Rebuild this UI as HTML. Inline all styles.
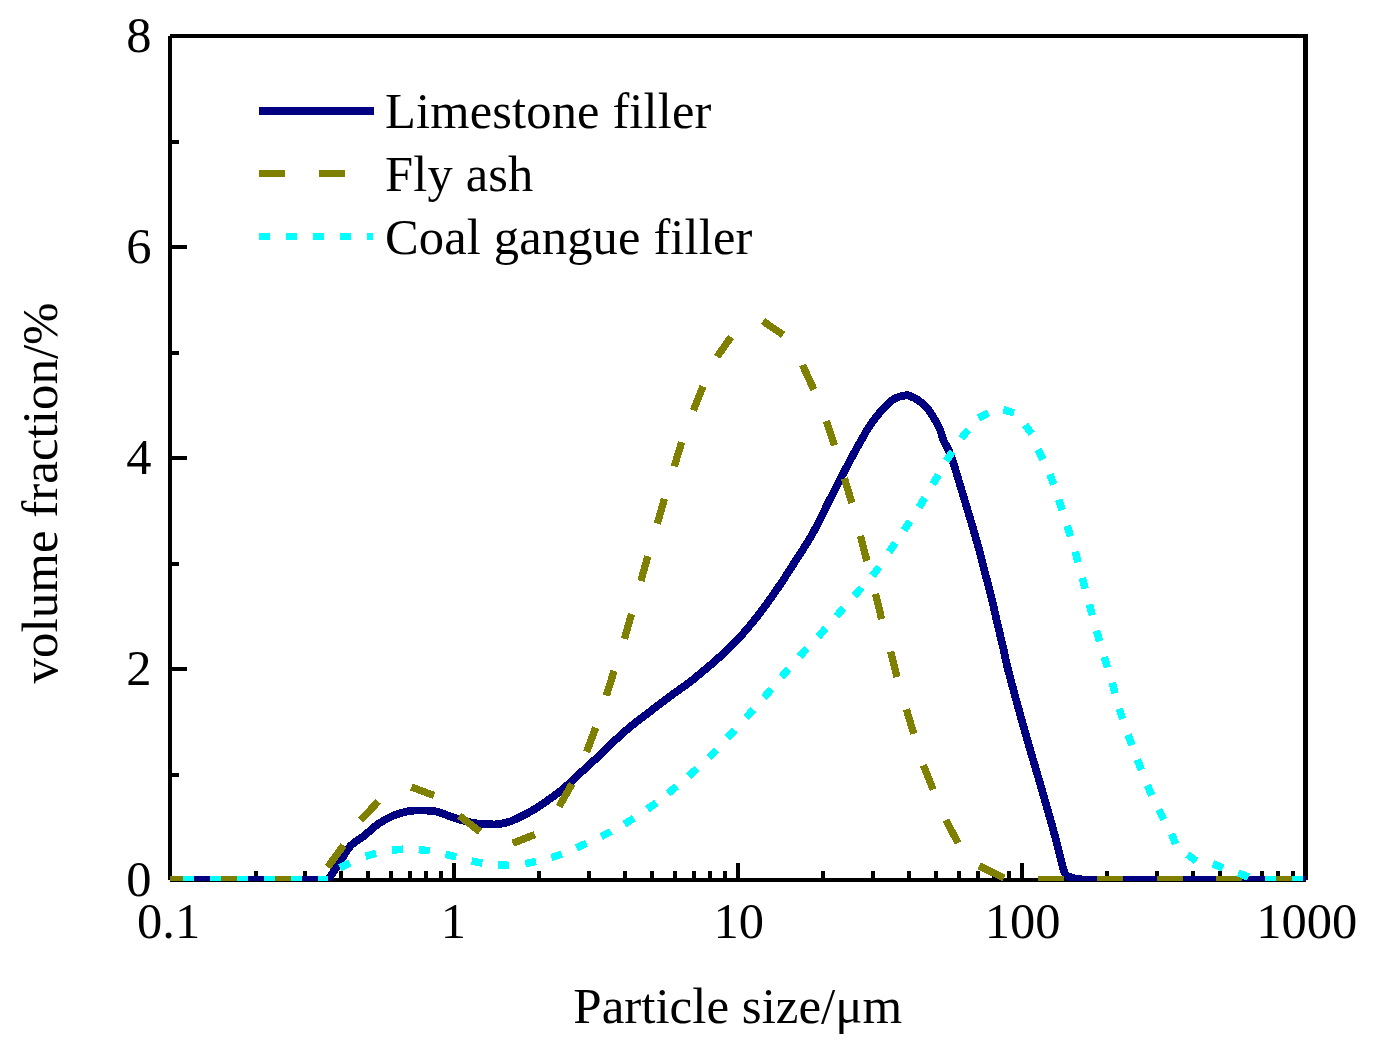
<!DOCTYPE html>
<html><head><meta charset="utf-8"><title>Particle size distribution</title>
<style>html,body{margin:0;padding:0;background:#fff}body{width:1376px;height:1056px;overflow:hidden}svg{display:block}text{font-family:"Liberation Serif",serif;font-size:50.5px;fill:#000}</style>
</head><body>
<svg width="1376" height="1056" viewBox="0 0 1376 1056">
<rect x="0" y="0" width="1376" height="1056" fill="#fff"/>
<g fill="#000" shape-rendering="crispEdges">
<rect x="168" y="36" width="4" height="844"/>
<rect x="170" y="34" width="1138" height="4"/>
<rect x="1303" y="36" width="5" height="844"/>
<rect x="170" y="878" width="1136" height="4"/>
<rect x="172" y="139.5" width="7" height="4"/>
<rect x="172" y="245.0" width="15" height="4"/>
<rect x="172" y="350.5" width="7" height="4"/>
<rect x="172" y="456.0" width="15" height="4"/>
<rect x="172" y="561.5" width="7" height="4"/>
<rect x="172" y="667.0" width="15" height="4"/>
<rect x="172" y="772.5" width="7" height="4"/>
<rect x="253.5" y="871" width="4" height="7"/>
<rect x="303.4" y="871" width="4" height="7"/>
<rect x="338.9" y="871" width="4" height="7"/>
<rect x="366.4" y="871" width="4" height="7"/>
<rect x="388.9" y="871" width="4" height="7"/>
<rect x="407.9" y="871" width="4" height="7"/>
<rect x="424.4" y="871" width="4" height="7"/>
<rect x="438.9" y="871" width="4" height="7"/>
<rect x="451.9" y="863" width="4" height="15"/>
<rect x="537.3" y="871" width="4" height="7"/>
<rect x="587.3" y="871" width="4" height="7"/>
<rect x="622.8" y="871" width="4" height="7"/>
<rect x="650.3" y="871" width="4" height="7"/>
<rect x="672.8" y="871" width="4" height="7"/>
<rect x="691.8" y="871" width="4" height="7"/>
<rect x="708.2" y="871" width="4" height="7"/>
<rect x="722.8" y="871" width="4" height="7"/>
<rect x="735.8" y="863" width="4" height="15"/>
<rect x="821.2" y="871" width="4" height="7"/>
<rect x="871.2" y="871" width="4" height="7"/>
<rect x="906.7" y="871" width="4" height="7"/>
<rect x="934.2" y="871" width="4" height="7"/>
<rect x="956.6" y="871" width="4" height="7"/>
<rect x="975.7" y="871" width="4" height="7"/>
<rect x="992.1" y="871" width="4" height="7"/>
<rect x="1006.6" y="871" width="4" height="7"/>
<rect x="1019.6" y="863" width="4" height="15"/>
<rect x="1105.1" y="871" width="4" height="7"/>
<rect x="1155.1" y="871" width="4" height="7"/>
<rect x="1190.5" y="871" width="4" height="7"/>
<rect x="1218.0" y="871" width="4" height="7"/>
<rect x="1240.5" y="871" width="4" height="7"/>
<rect x="1259.5" y="871" width="4" height="7"/>
<rect x="1276.0" y="871" width="4" height="7"/>
<rect x="1290.5" y="871" width="4" height="7"/>
</g>
<defs><clipPath id="c"><rect x="170" y="36" width="1136" height="845"/></clipPath></defs>
<g clip-path="url(#c)" fill="none" shape-rendering="crispEdges">
<path d="M170,879.5 L328.5,879.5 " stroke="#000080" stroke-width="7"/>
<path d="M328.5,879.5 C330.0,877.2 334.8,869.7 337.3,865.8 C339.8,861.9 341.3,859.4 343.3,856.3 C345.3,853.2 347.7,849.4 349.3,847.3 C350.9,845.2 351.6,844.9 353.0,843.7 C354.4,842.5 356.1,841.4 358.0,840.0 C359.9,838.6 361.0,838.2 364.5,835.4 C368.0,832.6 374.2,826.7 379.1,823.4 C384.0,820.1 388.8,817.6 393.6,815.6 C398.4,813.6 403.2,812.1 408.1,811.2 C413.0,810.4 417.9,810.4 422.7,810.5 C427.5,810.6 432.1,810.6 437.2,811.8 C442.3,813.0 448.4,815.9 453.3,817.5 C458.2,819.1 462.1,820.4 466.5,821.5 C470.9,822.6 475.4,823.4 479.8,823.9 C484.2,824.4 489.6,824.4 493.0,824.4 C496.4,824.4 497.2,824.5 500.0,824.0 C502.8,823.5 506.5,822.7 510.0,821.5 C513.5,820.3 517.3,818.4 520.8,816.7 C524.3,815.0 527.5,813.3 531.0,811.3 C534.5,809.3 538.2,807.0 541.7,804.7 C545.2,802.4 548.5,799.8 552.0,797.3 C555.5,794.8 559.0,792.3 562.5,789.4 C566.0,786.5 569.5,783.2 573.0,780.0 C576.5,776.8 579.8,773.5 583.3,770.3 C586.8,767.0 591.2,763.1 594.0,760.5 C596.8,757.9 598.3,756.4 600.0,754.8 C601.7,753.2 602.3,752.8 604.2,751.0 C606.1,749.2 608.2,747.0 611.3,744.0 C614.4,741.0 618.9,736.7 622.7,733.3 C626.5,729.9 630.2,726.8 634.0,723.8 C637.8,720.8 641.7,717.9 645.5,715.0 C649.3,712.1 653.0,709.2 656.8,706.3 C660.6,703.4 664.4,700.5 668.2,697.7 C672.0,694.9 675.7,692.2 679.5,689.5 C683.3,686.8 687.1,684.1 690.9,681.2 C694.7,678.3 698.4,675.1 702.2,672.0 C706.0,668.9 710.3,665.2 713.6,662.3 C716.9,659.4 718.9,657.7 722.0,654.8 C725.1,651.9 728.5,648.8 732.3,645.0 C736.1,641.2 740.5,636.5 744.6,631.8 C748.7,627.1 752.8,622.2 756.9,617.0 C761.0,611.8 765.2,606.0 769.3,600.3 C773.4,594.5 777.5,588.6 781.6,582.5 C785.7,576.4 789.8,569.8 793.9,563.4 C798.0,557.0 802.6,550.1 806.2,544.3 C809.8,538.5 811.8,535.2 815.4,528.5 C819.0,521.8 823.6,512.0 827.7,503.8 C831.8,495.6 836.0,487.4 840.2,479.2 C844.5,471.0 849.6,461.3 853.2,454.6 C856.8,447.9 859.6,443.2 862.0,439.0 C864.4,434.8 865.2,432.8 867.3,429.5 C869.4,426.2 872.1,422.4 874.5,419.2 C876.9,416.0 879.4,412.9 881.8,410.2 C884.2,407.4 886.7,404.8 889.1,402.7 C891.5,400.6 893.9,398.9 896.3,397.8 C898.7,396.7 901.8,396.2 903.6,395.8 C905.4,395.4 906.0,395.0 907.2,395.1 C908.4,395.2 909.1,395.6 910.9,396.4 C912.7,397.2 915.7,398.5 918.1,400.1 C920.5,401.7 923.0,403.6 925.4,406.2 C927.8,408.8 930.3,412.1 932.7,416.0 C935.1,419.9 938.1,425.4 939.9,429.4 C941.7,433.4 941.6,435.8 943.4,440.0 C945.2,444.2 948.1,448.1 950.6,454.6 C953.1,461.1 955.8,471.0 958.3,479.2 C960.8,487.4 963.2,495.6 965.7,503.8 C968.2,512.0 970.8,520.7 973.1,528.5 C975.4,536.3 977.2,542.8 979.3,550.5 C981.4,558.2 983.4,566.5 985.5,574.6 C987.6,582.7 989.8,591.0 991.8,599.2 C993.8,607.4 995.6,615.6 997.5,623.8 C999.4,632.0 1001.4,640.3 1003.3,648.5 C1005.2,656.7 1005.8,661.2 1008.9,673.1 C1012.0,685.0 1017.6,705.3 1021.6,719.8 C1025.6,734.2 1029.6,747.8 1033.1,759.8 C1036.6,771.8 1039.5,781.4 1042.5,791.8 C1045.5,802.2 1048.5,812.7 1051.2,822.3 C1053.9,831.9 1056.5,841.8 1058.4,849.3 C1060.3,856.8 1061.6,862.8 1062.8,867.0 C1064.0,871.2 1064.1,872.5 1065.5,874.3 C1066.9,876.0 1068.6,876.7 1071.0,877.5 C1073.4,878.3 1076.8,879.0 1080.0,879.3 C1083.2,879.6 1088.3,879.5 1090.0,879.5 L1306,879.5" stroke="#000080" stroke-width="7.8" stroke-linejoin="round"/>
<g stroke="#808000" stroke-width="7.3">
<line x1="170" y1="879.5" x2="183" y2="879.5"/>
<line x1="210" y1="879.5" x2="237" y2="879.5"/>
<line x1="264" y1="879.5" x2="291" y2="879.5"/>
<line x1="1038.2" y1="879.5" x2="1064.1" y2="879.5"/>
<line x1="1097" y1="879.5" x2="1123" y2="879.5"/>
<line x1="1156.8" y1="879.5" x2="1182.9" y2="879.5"/>
<line x1="1216.2" y1="879.5" x2="1242" y2="879.5"/>
<line x1="1276" y1="879.5" x2="1302" y2="879.5"/>
<line x1="327.8" y1="867" x2="343.5" y2="845.4"/>
<line x1="360.5" y1="820.3" x2="378.3" y2="801.4"/>
<line x1="411.4" y1="787" x2="433.9" y2="795.5"/>
<line x1="459.3" y1="815.7" x2="480" y2="831.7"/>
<line x1="512.7" y1="843.3" x2="534.9" y2="834.5"/>
<line x1="559" y1="806.6" x2="572" y2="783.9"/>
<line x1="586.6" y1="751.9" x2="595.7" y2="727.6"/>
<line x1="606.4" y1="695.5" x2="614.1" y2="670.9"/>
<line x1="624.4" y1="638.9" x2="631.5" y2="614"/>
<line x1="640.9" y1="581" x2="647.8" y2="556.2"/>
<line x1="657.3" y1="523.6" x2="664.4" y2="498.8"/>
<line x1="674.2" y1="466.4" x2="681.7" y2="442.2"/>
<line x1="693.4" y1="410.4" x2="702.9" y2="386.4"/>
<line x1="717.2" y1="356.7" x2="731" y2="336.9"/>
<line x1="763" y1="321.1" x2="783.1" y2="334.9"/>
<line x1="802.5" y1="365" x2="813.9" y2="389.7"/>
<line x1="826.3" y1="421" x2="834.5" y2="445.4"/>
<line x1="844.4" y1="478.4" x2="851.9" y2="502.9"/>
<line x1="860.4" y1="535.8" x2="866.9" y2="560.9"/>
<line x1="875.6" y1="593.9" x2="881.6" y2="619.1"/>
<line x1="890.6" y1="651.7" x2="897" y2="677"/>
<line x1="906.4" y1="709.3" x2="913.8" y2="733.8"/>
<line x1="923.4" y1="765.2" x2="933.1" y2="789.5"/>
<line x1="945.9" y1="820.1" x2="958.1" y2="843"/>
<line x1="978.9" y1="865.8" x2="1004.2" y2="878.1"/>
</g>
<g stroke="#00ffff" stroke-width="7.5">
<line x1="183" y1="879.5" x2="193.5" y2="879.5"/>
<line x1="210" y1="879.5" x2="221" y2="879.5"/>
<line x1="237" y1="879.5" x2="248" y2="879.5"/>
<line x1="264" y1="879.5" x2="275" y2="879.5"/>
<line x1="291" y1="879.5" x2="302" y2="879.5"/>
<line x1="318" y1="879.5" x2="327.5" y2="879.5"/>
<line x1="1265" y1="879.5" x2="1276" y2="879.5"/>
<line x1="1292" y1="879.5" x2="1303" y2="879.5"/>
<line x1="340.1" y1="867.9" x2="349.9" y2="862.7"/>
<line x1="365.5" y1="856.4" x2="376.1" y2="853.2"/>
<line x1="392.2" y1="850.2" x2="403.2" y2="849.2"/>
<line x1="418.8" y1="849.6" x2="429.8" y2="850.8"/>
<line x1="445.5" y1="854.4" x2="456.3" y2="856.8"/>
<line x1="471.6" y1="861.1" x2="482.4" y2="863.1"/>
<line x1="498.0" y1="865.1" x2="509.0" y2="865.3"/>
<line x1="525.2" y1="863.6" x2="536.0" y2="861.6"/>
<line x1="551.5" y1="857.5" x2="561.9" y2="854.1"/>
<line x1="576.5" y1="847.8" x2="586.5" y2="843.4"/>
<line x1="601.2" y1="836.5" x2="611.0" y2="831.5"/>
<line x1="624.4" y1="824.1" x2="633.8" y2="818.3"/>
<line x1="647.3" y1="809.2" x2="656.3" y2="802.8"/>
<line x1="668.1" y1="793.3" x2="676.7" y2="786.3"/>
<line x1="688.7" y1="776.1" x2="696.9" y2="768.7"/>
<line x1="708.9" y1="757.6" x2="716.7" y2="749.8"/>
<line x1="727.4" y1="737.9" x2="734.8" y2="729.9"/>
<line x1="746.0" y1="717.7" x2="753.4" y2="709.5"/>
<line x1="764.1" y1="697.5" x2="771.3" y2="689.1"/>
<line x1="781.4" y1="677.1" x2="788.6" y2="668.9"/>
<line x1="799.6" y1="656.5" x2="807.0" y2="648.3"/>
<line x1="818.3" y1="636.6" x2="825.7" y2="628.4"/>
<line x1="836.4" y1="616.2" x2="843.6" y2="608.0"/>
<line x1="854.4" y1="595.9" x2="861.6" y2="587.7"/>
<line x1="872.4" y1="575.8" x2="879.2" y2="567.0"/>
<line x1="889.1" y1="551.9" x2="895.3" y2="542.9"/>
<line x1="904.0" y1="530.4" x2="910.0" y2="521.2"/>
<line x1="919.1" y1="507.3" x2="924.9" y2="497.9"/>
<line x1="932.8" y1="484.2" x2="938.4" y2="474.8"/>
<line x1="946.4" y1="460.9" x2="952.4" y2="451.7"/>
<line x1="961.3" y1="438.3" x2="968.3" y2="429.9"/>
<line x1="978.5" y1="417.9" x2="988.3" y2="412.9"/>
<line x1="1003.4" y1="409.7" x2="1014.0" y2="412.9"/>
<line x1="1025.1" y1="425.0" x2="1031.7" y2="433.8"/>
<line x1="1038.2" y1="449.5" x2="1042.8" y2="459.5"/>
<line x1="1049.8" y1="474.3" x2="1053.8" y2="484.5"/>
<line x1="1058.8" y1="499.6" x2="1062.2" y2="510.0"/>
<line x1="1067.2" y1="525.7" x2="1070.4" y2="536.3"/>
<line x1="1075.1" y1="551.7" x2="1078.1" y2="562.3"/>
<line x1="1082.4" y1="578.0" x2="1085.2" y2="588.6"/>
<line x1="1089.5" y1="604.5" x2="1092.3" y2="615.1"/>
<line x1="1096.6" y1="630.7" x2="1099.6" y2="641.3"/>
<line x1="1104.3" y1="656.9" x2="1107.5" y2="667.5"/>
<line x1="1112.1" y1="682.7" x2="1115.1" y2="693.3"/>
<line x1="1119.3" y1="708.7" x2="1122.7" y2="719.1"/>
<line x1="1128.1" y1="734.7" x2="1131.9" y2="745.1"/>
<line x1="1137.4" y1="759.7" x2="1141.4" y2="769.9"/>
<line x1="1147.4" y1="785.3" x2="1151.8" y2="795.3"/>
<line x1="1158.9" y1="809.7" x2="1163.7" y2="819.5"/>
<line x1="1171.5" y1="833.8" x2="1175.7" y2="844.0"/>
<line x1="1187.5" y1="854.5" x2="1196.3" y2="861.1"/>
<line x1="1212.9" y1="863.8" x2="1223.1" y2="868.0"/>
<line x1="1238.3" y1="872.9" x2="1248.5" y2="877.1"/>
</g>
</g>
<g shape-rendering="crispEdges">
<rect x="259" y="107" width="115" height="8" fill="#000080"/>
<rect x="259" y="170" width="26" height="7" fill="#808000"/><rect x="319" y="170" width="26" height="7" fill="#808000"/>
<rect x="259" y="232.5" width="11" height="7.5" fill="#00ffff"/>
<rect x="286" y="232.5" width="11" height="7.5" fill="#00ffff"/>
<rect x="313" y="232.5" width="11" height="7.5" fill="#00ffff"/>
<rect x="340" y="232.5" width="11" height="7.5" fill="#00ffff"/>
<rect x="367" y="232.5" width="6" height="7.5" fill="#00ffff"/>
</g>
<g style="font-size:51px;letter-spacing:0.16px">
<text x="385" y="127.8">Limestone filler</text>
<text x="385" y="190.6">Fly ash</text>
<text x="385" y="253.7">Coal gangue filler</text>
</g>
<text x="151.5" y="51.8" text-anchor="end">8</text>
<text x="151.5" y="262.8" text-anchor="end">6</text>
<text x="151.5" y="473.8" text-anchor="end">4</text>
<text x="151.5" y="684.8" text-anchor="end">2</text>
<text x="151.5" y="895.8" text-anchor="end">0</text>
<text x="168.6" y="938" text-anchor="middle">0.1</text>
<text x="453.3" y="938" text-anchor="middle">1</text>
<text x="738.8" y="938" text-anchor="middle">10</text>
<text x="1022.6" y="938" text-anchor="middle">100</text>
<text x="1306.8" y="938" text-anchor="middle">1000</text>
<text style="font-size:51px" x="737.8" y="1022.8" text-anchor="middle">Particle size/μm</text>
<text style="font-size:51px" transform="translate(56.5,492.9) rotate(-90)" text-anchor="middle">volume fraction/%</text>
</svg></body></html>
